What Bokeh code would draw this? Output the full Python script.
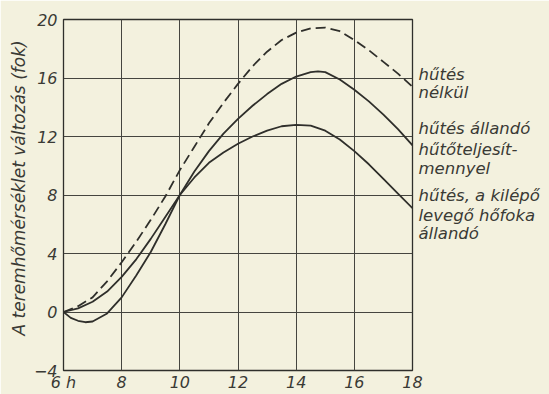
from bokeh.plotting import figure
from bokeh.models import Range1d, FixedTicker, LinearAxis, Title
from bokeh.embed import file_html
from bokeh.resources import INLINE

# Hours of the day (6 h ... 18 h)
hours_nocool = [6.0, 6.5, 7.0, 7.5, 8.0, 8.5, 9.0, 9.5, 10.0, 10.5, 11.0, 11.5, 12.0,
                12.5, 13.0, 13.5, 14.0, 14.5, 15.0, 15.5, 16.0, 16.5, 17.0, 17.5, 18.0]
# Room temperature change without cooling (dashed)
temp_nocool = [0.0, 0.4, 1.0, 2.1, 3.4, 4.8, 6.3, 7.9, 9.7, 11.3, 12.9, 14.3, 15.6,
               16.8, 17.8, 18.6, 19.1, 19.4, 19.45, 19.2, 18.6, 17.9, 17.1, 16.3, 15.4]

# Cooling with constant cooling capacity
hours_capacity = [6.0, 6.25, 6.5, 6.75, 7.0, 7.5, 8.0, 8.5, 9.0, 9.5, 10.0, 10.5, 11.0,
                  11.5, 12.0, 12.5, 13.0, 13.5, 14.0, 14.5, 14.75, 15.0, 15.5, 16.0,
                  16.5, 17.0, 17.5, 18.0]
temp_capacity = [0.0, -0.4, -0.6, -0.7, -0.65, -0.1, 1.0, 2.5, 4.1, 6.0, 8.0, 9.6, 11.0,
                 12.2, 13.2, 14.1, 14.9, 15.6, 16.1, 16.4, 16.45, 16.4, 15.9, 15.2,
                 14.4, 13.5, 12.5, 11.4]

# Cooling with constant outlet air temperature
hours_outlet = [6.0, 6.5, 7.0, 7.5, 8.0, 8.5, 9.0, 9.5, 10.0, 10.5, 11.0, 11.5, 12.0,
                12.5, 13.0, 13.5, 14.0, 14.5, 15.0, 15.5, 16.0, 16.5, 17.0, 17.5, 18.0]
temp_outlet = [0.0, 0.25, 0.7, 1.4, 2.4, 3.6, 5.0, 6.5, 8.0, 9.2, 10.2, 10.9, 11.5,
               12.0, 12.4, 12.7, 12.8, 12.75, 12.4, 11.8, 11.0, 10.1, 9.1, 8.1, 7.1]

x_ticks = [6, 8, 10, 12, 14, 16, 18]
y_ticks = [-4, 0, 4, 8, 12, 16, 20]
x_tick_labels = {6: "6 h"}

axis_title = "A teremhőmérséklet változás (fok)"
# Curve captions on the right, one entry per text line, at the height of that line
caption_lines = ["hűtés", "nélkül",
                 "hűtés állandó", "hűtőteljesít-", "mennyel",
                 "hűtés, a kilépő", "levegő hőfoka", "állandó"]
caption_heights = [16.25, 15.0, 12.55, 11.1, 9.8, 7.95, 6.6, 5.35]

PAPER = "#f3f1de"
INK = "#2f2f2b"
TEXT = "#3a3a35"
FONT = "DejaVu Sans"

p = figure(width=549, height=394, x_range=Range1d(6, 18), y_range=Range1d(-4, 20),
           output_backend="svg", toolbar_location=None,
           min_border_left=63, min_border_right=137, min_border_top=19,
           min_border_bottom=24)
p.background_fill_color = PAPER
p.border_fill_color = PAPER
p.outline_line_color = INK
p.outline_line_width = 1.3

# Captions as a tick-less axis on the right side
caption_axis = LinearAxis(ticker=FixedTicker(ticks=caption_heights),
                          major_label_overrides=dict(zip(caption_heights, caption_lines)))
p.add_layout(caption_axis, "right")

for ax in (p.xaxis[0], p.yaxis[0], caption_axis):
    ax.axis_line_color = None
    ax.major_tick_line_color = None
    ax.minor_tick_line_color = None
    ax.major_tick_out = 0
    ax.major_tick_in = 0
    ax.major_label_text_font = FONT
    ax.major_label_text_font_style = "italic"
    ax.major_label_text_font_size = "16px"
    ax.major_label_text_color = TEXT

caption_axis.major_label_text_font_size = "16.5px"
p.xaxis.ticker = FixedTicker(ticks=x_ticks)
p.yaxis[0].ticker = FixedTicker(ticks=y_ticks)
p.xaxis.major_label_overrides = x_tick_labels
p.xaxis.major_label_standoff = 2
p.yaxis[0].major_label_standoff = 6
caption_axis.major_label_standoff = 6

p.xgrid.ticker = FixedTicker(ticks=x_ticks)
p.ygrid.ticker = FixedTicker(ticks=y_ticks)
for g in (p.xgrid[0], p.ygrid[0]):
    g.grid_line_color = "#45453f"
    g.grid_line_width = 1

p.line(hours_nocool, temp_nocool, line_color=INK, line_width=1.8, line_dash="10 5")
p.line(hours_capacity, temp_capacity, line_color=INK, line_width=1.8)
p.line(hours_outlet, temp_outlet, line_color=INK, line_width=1.8)

p.add_layout(Title(text=axis_title, align="left", offset=35, standoff=4,
                   text_font=FONT, text_font_style="italic", text_font_size="17px",
                   text_color=TEXT), "left")

open("out.html", "w").write(file_html(p, INLINE))
